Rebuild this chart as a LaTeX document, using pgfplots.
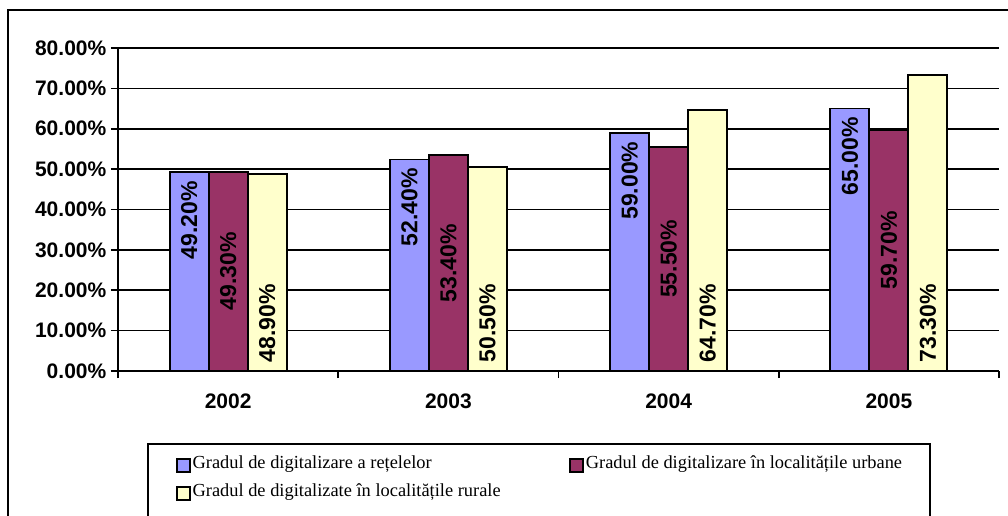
\documentclass[border=0pt]{standalone}
\usepackage{fontspec}
\setmainfont{Liberation Serif}
\newfontfamily\arialf{Liberation Sans}
\usepackage{pgfplots}
\usepackage{pgfplotstable}
\pgfplotsset{compat=1.18}
\definecolor{cblue}{HTML}{9999FF}
\definecolor{cmaroon}{HTML}{993366}
\definecolor{cyellow}{HTML}{FFFFCC}
\pgfplotstableread{
x a b c
1 49.2 49.3 48.9
2 52.4 53.4 50.5
3 59.0 55.5 64.7
4 65.0 59.7 73.3
}\datatable
\pgfplotsset{
  lab/.style={
    nodes near coords={\pgfmathprintnumber[fixed,fixed zerofill,precision=2]{\pgfplotspointmeta}\%},
    every node near coord/.append style={font=\arialf\bfseries\fontsize{17.25}{20}\selectfont, text=black},
  },
}
\begin{document}
\begin{tikzpicture}
\useasboundingbox (0,0) rectangle (756pt,386.25pt);
\clip (0,0) rectangle (756pt,386.25pt);
\begin{axis}[
  at={(88.5pt,108pt)}, anchor=south west,
  scale only axis, width=660.75pt, height=242.25pt,
  xmin=0.5, xmax=4.5, ymin=0, ymax=80,
  axis x line*=bottom, axis y line*=left,
  axis line style={line width=1.5pt, -},
  xtick={0.5,1.5,2.5,3.5,4.5},
  x tick label as interval,
  xticklabels={2002,2003,2004,2005},
  xticklabel style={yshift=-8.5pt},
  ytick={0,10,20,30,40,50,60,70,80},
  yticklabels={0.00\%,10.00\%,20.00\%,30.00\%,40.00\%,50.00\%,60.00\%,70.00\%,80.00\%},
  tick align=outside,
  major tick length=5.25pt,
  tick style={black, line width=1.2pt},
  ymajorgrids, grid style={black, line width=1.3pt},
  ticklabel style={font=\arialf\bfseries\fontsize{15.75}{18}\selectfont},
  ybar, bar width=0.177,
  /pgf/number format/assume math mode=true,
  legend columns=2,
  legend style={at={(0.06583,-0.2679)}, anchor=north west, draw=none, fill=none,
    inner sep=0pt, outer sep=0pt, column sep=0pt, row sep=9pt,
    font=\fontsize{13.8}{16}\selectfont,
    nodes={inner xsep=1.5pt, inner ysep=0pt, text height=8.5pt, text depth=3.5pt, anchor=west}},
  legend image code/.code={\draw[#1, line width=1.2pt] (0pt,-4.875pt) rectangle (9.75pt,4.875pt);},
]
\addplot[fill=cblue, draw=black, line width=1.4pt, bar shift=-0.177, lab,
  every node near coord/.append style={rotate=90, anchor=east, inner xsep=6pt}]
  table[x=x,y=a]{\datatable};
\addlegendentry{\makebox[281pt][l]{Gradul de digitalizare a rețelelor}}
\addplot[fill=cmaroon, draw=black, line width=1.4pt, bar shift=0, lab,
  visualization depends on={y \as \rawy},
  every node near coord/.append style={shift={(axis direction cs:0,-\rawy/2)}, rotate=90, anchor=center}]
  table[x=x,y=b]{\datatable};
\addlegendentry{Gradul de digitalizare în localitățile urbane}
\addplot[fill=cyellow, draw=black, line width=1.4pt, bar shift=0.177, lab,
  visualization depends on={y \as \rawy},
  every node near coord/.append style={shift={(axis direction cs:0,-\rawy)}, rotate=90, anchor=west, inner xsep=6pt}]
  table[x=x,y=c]{\datatable};
\addlegendentry{\makebox[281pt][l]{Gradul de digitalizate în localitățile rurale}}
\end{axis}
\draw[line width=1.5pt] (6pt,-10pt) -- (6pt,378.75pt) -- (770pt,378.75pt);
\draw[line width=1.5pt] (111pt,-10pt) rectangle (697.5pt,53.25pt);
\end{tikzpicture}
\end{document}
